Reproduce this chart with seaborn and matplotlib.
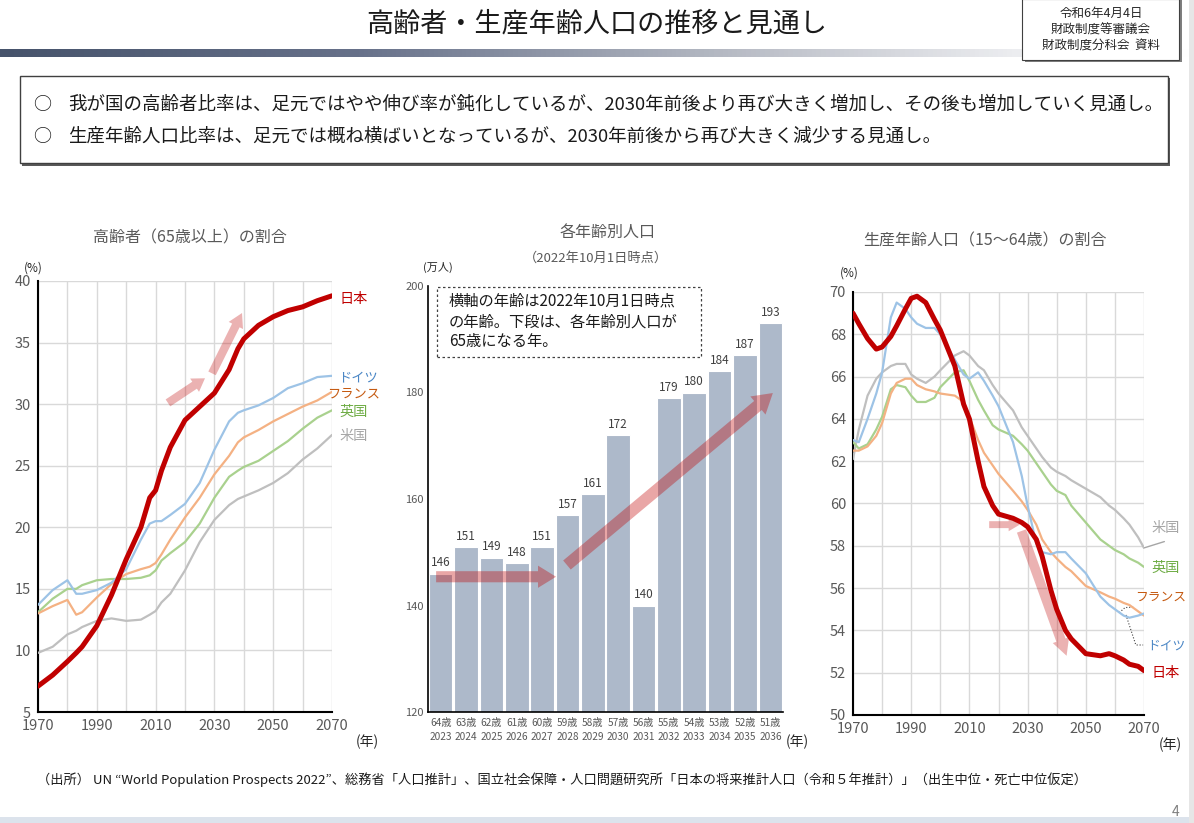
import matplotlib
matplotlib.use("Agg")
import matplotlib.pyplot as plt
import numpy as np
import pandas as pd
import seaborn as sns
from matplotlib.colors import LinearSegmentedColormap
from matplotlib.patches import FancyArrowPatch, Rectangle

# ---- data: 高齢者（65歳以上）の割合 ----
old_years = [1970, 1975, 1980, 1983, 1985, 1990, 1995, 2000, 2005, 2008, 2010, 2012, 2015,
             2020, 2025, 2030, 2035, 2038, 2040, 2045, 2050, 2055, 2060, 2065, 2070]
old_japan = [7.1, 8.0, 9.1, 9.8, 10.3, 12.0, 14.5, 17.4, 20.0, 22.4, 23.0, 24.6, 26.5,
             28.7, 29.8, 30.9, 32.8, 34.5, 35.3, 36.4, 37.1, 37.6, 37.9, 38.4, 38.8]
old_germany = [13.7, 14.9, 15.7, 14.6, 14.6, 14.9, 15.5, 16.6, 19.0, 20.3, 20.5, 20.5, 21.0,
               21.9, 23.6, 26.3, 28.6, 29.3, 29.5, 29.9, 30.5, 31.3, 31.7, 32.2, 32.3]
old_france = [13.0, 13.6, 14.1, 12.9, 13.1, 14.3, 15.4, 16.2, 16.6, 16.8, 17.1, 17.8, 19.0,
              20.8, 22.4, 24.3, 25.8, 26.9, 27.3, 27.9, 28.6, 29.2, 29.8, 30.3, 31.0]
old_uk = [13.1, 14.2, 15.0, 15.0, 15.3, 15.7, 15.8, 15.8, 15.9, 16.1, 16.5, 17.3, 17.9,
          18.8, 20.3, 22.4, 24.1, 24.6, 24.9, 25.4, 26.2, 27.0, 28.0, 28.9, 29.5]
old_us = [9.8, 10.3, 11.3, 11.6, 11.9, 12.4, 12.6, 12.4, 12.5, 12.9, 13.2, 13.9, 14.6,
          16.5, 18.8, 20.6, 21.8, 22.3, 22.5, 23.0, 23.6, 24.4, 25.5, 26.4, 27.5]

# ---- data: 各年齢別人口 ----
ages = ["64歳", "63歳", "62歳", "61歳", "60歳", "59歳", "58歳", "57歳", "56歳", "55歳",
        "54歳", "53歳", "52歳", "51歳"]
turn65 = [2023, 2024, 2025, 2026, 2027, 2028, 2029, 2030, 2031, 2032, 2033, 2034, 2035, 2036]
pop = [146, 151, 149, 148, 151, 157, 161, 172, 140, 179, 180, 184, 187, 193]

# ---- data: 生産年齢人口（15〜64歳）の割合 ----
work_years = [1970, 1972, 1975, 1978, 1980, 1983, 1985, 1988, 1990, 1992, 1995, 1998, 2000,
              2005, 2008, 2010, 2013, 2015, 2018, 2020, 2025, 2028, 2030, 2033, 2035, 2038,
              2040, 2043, 2045, 2050, 2055, 2058, 2060, 2063, 2065, 2068, 2070]
work_japan = [69.0, 68.5, 67.8, 67.3, 67.4, 67.9, 68.4, 69.2, 69.7, 69.8, 69.5, 68.7, 68.2,
              66.5, 64.7, 64.0, 62.0, 60.8, 59.9, 59.5, 59.3, 59.1, 58.9, 58.3, 57.5, 55.9,
              55.0, 54.0, 53.6, 52.9, 52.8, 52.9, 52.8, 52.6, 52.4, 52.3, 52.1]
work_germany = [63.0, 62.9, 64.0, 65.2, 66.2, 68.8, 69.5, 69.2, 68.8, 68.5, 68.3, 68.3, 68.0,
                66.8, 66.1, 65.9, 66.2, 65.8, 65.1, 64.6, 62.9, 61.3, 59.9, 58.1, 57.7, 57.6,
                57.7, 57.7, 57.4, 56.7, 55.6, 55.2, 55.0, 54.7, 54.6, 54.7, 54.8]
work_france = [62.5, 62.5, 62.7, 63.2, 63.8, 65.2, 65.7, 65.9, 65.9, 65.6, 65.4, 65.3, 65.2,
               65.1, 64.8, 64.1, 63.0, 62.4, 61.8, 61.4, 60.6, 60.1, 59.7, 59.0, 58.3, 57.7,
               57.4, 57.0, 56.8, 56.1, 55.8, 55.6, 55.5, 55.3, 55.2, 54.9, 54.7]
work_uk = [62.9, 62.6, 62.8, 63.5, 64.1, 65.4, 65.6, 65.5, 65.1, 64.8, 64.8, 65.0, 65.5,
           66.2, 66.3, 65.8, 64.9, 64.4, 63.7, 63.5, 63.2, 62.8, 62.5, 61.9, 61.5, 60.9,
           60.6, 60.4, 59.9, 59.1, 58.3, 58.0, 57.8, 57.6, 57.4, 57.2, 57.0]
work_us = [62.1, 63.5, 65.1, 65.9, 66.2, 66.5, 66.6, 66.6, 66.1, 65.9, 65.7, 66.0, 66.3,
           67.0, 67.2, 67.0, 66.5, 66.3, 65.6, 65.2, 64.4, 63.6, 63.2, 62.6, 62.2, 61.7,
           61.5, 61.3, 61.1, 60.7, 60.3, 59.9, 59.7, 59.3, 59.0, 58.4, 57.9]

countries = ["米国", "英国", "フランス", "ドイツ", "日本"]
line_colors = {"日本": "#C00000", "ドイツ": "#9DC3E6", "フランス": "#F4B183",
               "英国": "#A9D18E", "米国": "#BFBFBF"}
label_colors = {"日本": "#C00000", "ドイツ": "#4A86C5", "フランス": "#C55A11",
                "英国": "#70AD47", "米国": "#A6A6A6"}

W, H = 1194, 823
GRAY = "#595959"

sns.set_theme(style="white")
plt.rcParams["font.family"] = ["Noto Sans CJK JP", "DejaVu Sans"]


def box(x0, y0, x1, y1):
    return [x0 / W, 1 - y1 / H, (x1 - x0) / W, (y1 - y0) / H]


def ftext(x, y, s, **kw):
    fig.text(x / W, 1 - y / H, s, **kw)


def style_line_ax(ax, ymin, ymax, ystep):
    ax.set_xlim(1970, 2070)
    ax.set_ylim(ymin, ymax)
    ax.set_xticks(range(1970, 2071, 20))
    ax.set_xticks(range(1970, 2071, 10), minor=True)
    ax.set_yticks(np.arange(ymin, ymax + 0.01, ystep))
    ax.grid(which="both", axis="x", color="#D9D9D9", lw=1)
    ax.grid(which="major", axis="y", color="#D9D9D9", lw=1)
    ax.set_axisbelow(True)
    for s in ["top", "right"]:
        ax.spines[s].set_visible(False)
    for s in ["left", "bottom"]:
        ax.spines[s].set_color("black")
        ax.spines[s].set_linewidth(1.5)
    ax.tick_params(which="both", length=0, labelsize=10.5, labelcolor=GRAY, pad=5)
    ax.set_xlabel("")
    ax.set_ylabel("")


def add_arrow(ax, p0, p1, color, alpha, tail, head_w, head_l):
    ax.add_patch(FancyArrowPatch(
        p0, p1, arrowstyle=f"simple,head_width={head_w},head_length={head_l},tail_width={tail}",
        color=color, alpha=alpha, lw=0, shrinkA=0, shrinkB=0, zorder=5, clip_on=False))


fig = plt.figure(figsize=(W / 100, H / 100), dpi=100)

# ---- header ----
ftext(597, 24, "高齢者・生産年齢人口の推移と見通し", fontsize=19.5, ha="center", va="center",
      color="#1A1A1A")
grad_ax = fig.add_axes(box(0, 49, 1194, 57))
cmap = LinearSegmentedColormap.from_list(
    "hdr", [(0, "#46536B"), (0.3, "#67718A"), (0.6, "#B4B8C2"), (0.85, "#ECEDF0"), (1, "#FFFFFF")])
grad_ax.imshow(np.linspace(0, 1, 256)[None, :], aspect="auto", cmap=cmap)
grad_ax.axis("off")

fig.patches.append(Rectangle((1025 / W, 1 - 62 / H), 157 / W, 62 / H, transform=fig.transFigure,
                             facecolor="#7F7F7F", edgecolor="none"))
fig.patches.append(Rectangle((1022 / W, 1 - 60 / H), 157 / W, 61 / H, transform=fig.transFigure,
                             facecolor="white", edgecolor="#404040", lw=0.8))
ftext(1101, 13, "令和6年4月4日", fontsize=9, ha="center", va="center", color="#262626")
ftext(1101, 30, "財政制度等審議会", fontsize=9, ha="center", va="center", color="#262626")
ftext(1101, 46, "財政制度分科会  資料", fontsize=9, ha="center", va="center", color="#262626")

fig.patches.append(Rectangle((22 / W, 1 - 166 / H), 1148 / W, 88 / H, transform=fig.transFigure,
                             facecolor="#595959", edgecolor="none"))
fig.patches.append(Rectangle((20 / W, 1 - 163 / H), 1148 / W, 87 / H, transform=fig.transFigure,
                             facecolor="white", edgecolor="#404040", lw=1))
ftext(42, 105, "○", fontsize=13, ha="center", va="center", color="#1A1A1A")
ftext(68, 105, "我が国の高齢者比率は、足元ではやや伸び率が鈍化しているが、2030年前後より再び大きく増加し、その後も増加していく見通し。",
      fontsize=13.3, va="center", color="#1A1A1A")
ftext(42, 137, "○", fontsize=13, ha="center", va="center", color="#1A1A1A")
ftext(68, 137, "生産年齢人口比率は、足元では概ね横ばいとなっているが、2030年前後から再び大きく減少する見通し。",
      fontsize=13.3, va="center", color="#1A1A1A")

# ---- left: 高齢者の割合 ----
ax1 = fig.add_axes(box(38, 281, 332, 712))
old_series = {"日本": old_japan, "ドイツ": old_germany, "フランス": old_france,
              "英国": old_uk, "米国": old_us}
for c in countries:
    sns.lineplot(x=old_years, y=old_series[c], ax=ax1, color=line_colors[c],
                 lw=3.6 if c == "日本" else 1.6, legend=False, zorder=4 if c == "日本" else 3)
style_line_ax(ax1, 5, 40, 5)
old_label_y = {"日本": 38.55, "ドイツ": 32.15, "フランス": 30.85, "英国": 29.4, "米国": 27.4}
old_label_x = {"日本": 2072.7, "ドイツ": 2072.2, "フランス": 2068.3, "英国": 2072.7, "米国": 2072.7}
for c in countries:
    ax1.text(old_label_x[c], old_label_y[c], c, color=label_colors[c],
             fontsize=9.5 if c in ("フランス", "ドイツ") else 10.2,
             va="center", ha="left", clip_on=False)
add_arrow(ax1, (2014.2, 30.1), (2026.8, 32.1), "#C00000", 0.3, 6, 11.5, 9)
add_arrow(ax1, (2029.2, 32.5), (2039.4, 37.4), "#C00000", 0.3, 6, 11.5, 10)
ftext(190, 238, "高齢者（65歳以上）の割合", fontsize=11.5, ha="center", va="center", color=GRAY)
ftext(33, 268, "(%)", fontsize=8.5, ha="center", va="center", color="#262626")
ftext(367, 742, "(年)", fontsize=10, ha="center", va="center", color="#262626")

# ---- middle: 各年齢別人口 ----
ax2 = fig.add_axes(box(428, 286, 783, 712))
bars = pd.DataFrame({"label": [f"{a}\n{y}" for a, y in zip(ages, turn65)], "pop": pop})
sns.barplot(data=bars, x="label", y="pop", color="#ADB9CA", saturation=1, width=0.93,
            edgecolor="white", linewidth=0.8, ax=ax2)
ax2.bar_label(ax2.containers[0], fontsize=8.5, color="#404040", padding=3)
ax2.set_ylim(120, 200)
ax2.set_xlim(-0.5, len(pop) - 0.5)
ax2.set_yticks([120, 140, 160, 180, 200])
ax2.tick_params(axis="y", length=0, labelsize=8, labelcolor=GRAY, pad=3)
ax2.tick_params(axis="x", length=0, labelsize=7.3, labelcolor=GRAY, pad=4)
for t in ax2.get_xticklabels():
    t.set_linespacing(1.55)
for s in ["top", "right"]:
    ax2.spines[s].set_visible(False)
for s in ["left", "bottom"]:
    ax2.spines[s].set_color("black")
    ax2.spines[s].set_linewidth(1.2)
ax2.set_xlabel("")
ax2.set_ylabel("")
add_arrow(ax2, (-0.18, 145.4), (4.55, 145.4), "#C00000", 0.35, 8, 16, 13)
add_arrow(ax2, (4.98, 147.6), (13.1, 179.9), "#C00000", 0.35, 8.5, 17, 14)
fig.patches.append(Rectangle((437 / W, 1 - 357 / H), 264 / W, 70 / H, transform=fig.transFigure,
                             facecolor="white", edgecolor="#404040", lw=0.9, ls=(0, (2, 2))))
ftext(449, 301, "横軸の年齢は2022年10月1日時点", fontsize=11, va="center", color="#1A1A1A")
ftext(449, 322, "の年齢。下段は、各年齢別人口が", fontsize=11, va="center", color="#1A1A1A")
ftext(449, 342, "65歳になる年。", fontsize=11, va="center", color="#1A1A1A")
ftext(608, 232, "各年齢別人口", fontsize=11.5, ha="center", va="center", color=GRAY)
ftext(596, 258, "（2022年10月1日時点）", fontsize=9.5, ha="center", va="center", color=GRAY)
ftext(438, 267, "(万人)", fontsize=8, ha="center", va="center", color="#262626")
ftext(797, 742, "(年)", fontsize=10, ha="center", va="center", color="#262626")

# ---- right: 生産年齢人口の割合 ----
ax3 = fig.add_axes(box(853, 292, 1144, 715))
work_series = {"日本": work_japan, "ドイツ": work_germany, "フランス": work_france,
               "英国": work_uk, "米国": work_us}
for c in countries:
    sns.lineplot(x=work_years, y=work_series[c], ax=ax3, color=line_colors[c],
                 lw=3.6 if c == "日本" else 1.6, legend=False, zorder=4 if c == "日本" else 3)
style_line_ax(ax3, 50, 70, 2)
work_label_y = {"日本": 51.99, "ドイツ": 53.26, "フランス": 55.58, "英国": 56.95, "米国": 58.84}
work_label_x = {"日本": 2072.5, "ドイツ": 2071.2, "フランス": 2067.0, "英国": 2072.5, "米国": 2072.5}
for c in countries:
    ax3.text(work_label_x[c], work_label_y[c], c, color=label_colors[c],
             fontsize=9.2 if c in ("フランス", "ドイツ") else 10.2,
             va="center", ha="left", clip_on=False)
ax3.plot([2070, 2077], [57.9, 58.2], color="#A6A6A6", lw=1, clip_on=False)
ax3.plot([2061.5, 2063.5, 2066.3], [54.84, 55.08, 55.1], color="#404040", lw=0.8, ls=":",
         clip_on=False)
ax3.plot([2063.8, 2067.2, 2069.7], [54.73, 53.31, 53.31], color="#404040", lw=0.8, ls=":",
         clip_on=False)
add_arrow(ax3, (2016.8, 59.0), (2027.3, 59.0), "#C00000", 0.3, 5, 9.5, 8)
add_arrow(ax3, (2027.9, 58.7), (2043.4, 52.8), "#C00000", 0.3, 7, 12.5, 12)
ftext(985, 241, "生産年齢人口（15〜64歳）の割合", fontsize=11.5, ha="center", va="center",
      color=GRAY)
ftext(849, 273, "(%)", fontsize=8.5, ha="center", va="center", color="#262626")
ftext(1170, 745, "(年)", fontsize=10, ha="center", va="center", color="#262626")

# ---- footer ----
ftext(37, 780, "（出所） UN “World Population Prospects 2022”、総務省「人口推計」、国立社会保障・人口問題研究所「日本の将来推計人口（令和５年推計）」（出生中位・死亡中位仮定）",
      fontsize=9.5, va="center", color="#1A1A1A")
ftext(1176, 812, "4", fontsize=10, ha="center", va="center", color="#7F7F7F")
fig.patches.append(Rectangle((0, 0), 1, 6 / H, transform=fig.transFigure,
                             facecolor="#DCE3EC", edgecolor="none"))
fig.patches.append(Rectangle((1189 / W, 0), 5 / W, 1, transform=fig.transFigure,
                             facecolor="#E6E6E6", edgecolor="none"))

fig.savefig("out.png", dpi=100)
